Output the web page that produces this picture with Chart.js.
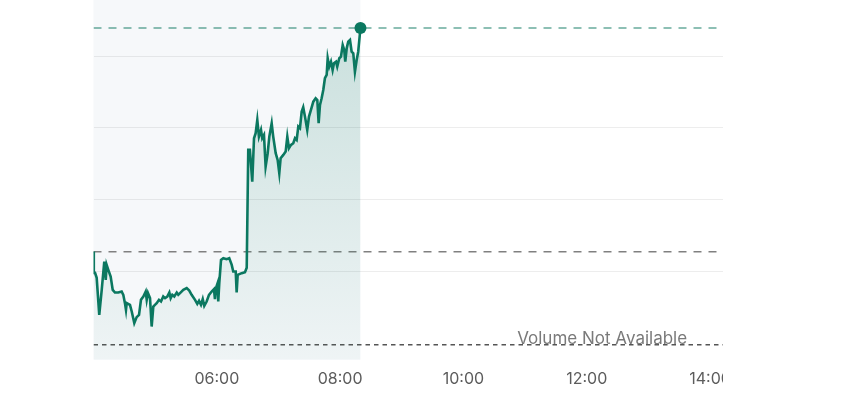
<!DOCTYPE html>
<html>
<head>
<meta charset="utf-8">
<script src="https://cdn.jsdelivr.net/npm/chart.js@4/dist/chart.umd.min.js"></script>
<style>
  html, body { margin: 0; padding: 0; background: #ffffff; }
  #clip { position: absolute; left: 0; top: 0; width: 723px; height: 400px; overflow: hidden; }
  #wrap { position: relative; width: 1090px; height: 400px; }
</style>
</head>
<body>
<div id="clip"><div id="wrap"><canvas id="c"></canvas></div></div>
<script>
// Time of each quote, minutes after midnight
const times = [
  240, 240.3, 241.5, 243.1, 245.6, 248.0, 250.5, 251.9, 252.8, 254.4,
  256.7, 258.7, 260.9, 264.1, 267.4, 269.0, 270.6, 271.6, 272.3, 275.5,
  277.2, 279.7, 282.0, 284.3, 286.2, 288.5, 290.8, 291.8, 293.0, 295.0,
  296.6, 298.2, 299.8, 301.5, 303.7, 305.7, 307.9, 309.6, 311.8, 313.8,
  315.1, 316.7, 318.6, 321.0, 322.5, 324.2, 327.4, 330.7, 333.2, 335.5,
  338.8, 341.0, 342.7, 344.6, 346.3, 347.8, 350.1, 352.4, 355.0, 357.2,
  358.2, 359.2, 360.8, 361.4, 362.4, 364.1, 366.3, 369.6, 372.1, 374.5,
  376.0, 378.4, 379.3, 380.3, 384.2, 387.4, 389.1, 390.6, 392.2, 394.5,
  396.2, 397.8, 399.4, 401.0, 403.0, 404.2, 405.9, 407.5, 409.5, 411.1,
  413.4, 414.9, 417.3, 419.2, 420.8, 422.1, 424.7, 427.0, 428.6, 430.2,
  432.2, 434.4, 436.1, 437.7, 439.3, 440.9, 442.6, 444.1, 445.8, 448.0,
  449.7, 451.6, 453.9, 456.2, 457.8, 459.1, 460.4, 462.0, 463.6, 465.2,
  466.9, 467.9, 469.4, 471.1, 472.7, 474.0, 476.0, 477.2, 479.2, 480.8,
  482.5, 484.0, 485.0, 486.4, 487.9, 489.6, 491.2, 492.8, 494.4, 496.1,
  497.6, 499.8
];
// Price at each time
const prices = [
  1.483, 1.27, 1.27, 1.22, 0.85, 1.10, 1.383, 1.20, 1.35, 1.30,
  1.233, 1.10, 1.073, 1.073, 1.083, 1.05, 0.967, 0.90, 0.967, 0.95,
  0.883, 0.767, 0.827, 0.85, 1.00, 1.033, 1.083, 1.00, 1.067, 1.017,
  0.733, 0.933, 0.95, 0.967, 1.00, 0.983, 1.033, 1.017, 1.033, 1.073,
  1.017, 1.05, 1.033, 1.073, 1.05, 1.067, 1.10, 1.117, 1.093, 1.05,
  1.00, 0.96, 0.99, 0.95, 1.007, 0.94, 0.983, 1.05, 1.083, 1.107,
  1.007, 1.117, 1.167, 0.983, 1.167, 1.40, 1.417, 1.407, 1.417, 1.35,
  1.283, 1.283, 1.073, 1.25, 1.267, 1.277, 1.32, 2.50, 2.50, 2.183,
  2.617, 2.667, 2.80, 2.633, 2.70, 2.617, 2.65, 2.333, 2.467, 2.633,
  2.767, 2.633, 2.467, 2.40, 2.267, 2.417, 2.45, 2.483, 2.633, 2.517,
  2.55, 2.567, 2.617, 2.60, 2.733, 2.717, 2.883, 2.927, 2.833, 2.70,
  2.833, 2.90, 2.983, 3.017, 3.00, 2.767, 2.95, 3.017, 3.10, 3.217,
  3.25, 3.417, 3.333, 3.383, 3.30, 3.367, 3.383, 3.333, 3.417, 3.433,
  3.55, 3.50, 3.383, 3.517, 3.583, 3.60, 3.483, 3.467, 3.283, 3.40,
  3.483, 3.72
];
const previousClose = 1.48;
const lastPrice = 3.72;
const volumeBaseline = 0.55;
const gridValues = [1.28, 2.00, 2.72, 3.43];
const tickTimes = [360, 480, 600, 720, 840];
const tickLabels = ['06:00', '08:00', '10:00', '12:00', '14:00'];
const xMin = 240, xMax = 1200;
const yMin = 0.40, yMax = 4.00;
const volumeText = 'Volume Not Available';
const volumeTextTime = 735;

const GREEN = '#0b7860';

const pricePoints = times.map((t, i) => ({ x: t, y: prices[i] }));
const lastIndex = pricePoints.length - 1;

const shadePlugin = {
  id: 'shade',
  beforeDraw(chart) {
    const { ctx, chartArea, scales } = chart;
    const x0 = scales.x.getPixelForValue(times[0]);
    const x1 = scales.x.getPixelForValue(times[lastIndex]);
    ctx.save();
    ctx.fillStyle = '#f6f8fa';
    ctx.fillRect(x0, chartArea.top, x1 - x0, chartArea.bottom - chartArea.top);
    ctx.restore();
  }
};

const volumePlugin = {
  id: 'volumeText',
  afterDatasetsDraw(chart) {
    const { ctx, scales } = chart;
    ctx.save();
    ctx.font = '17px Inter, "Noto Sans", sans-serif';
    ctx.fillStyle = '#7a7a7a';
    ctx.textAlign = 'center';
    ctx.textBaseline = 'alphabetic';
    ctx.fillText(volumeText, scales.x.getPixelForValue(volumeTextTime), scales.y.getPixelForValue(volumeBaseline) - 0.5);
    ctx.restore();
  }
};

function refLine(value, color, dash, order) {
  return {
    type: 'line',
    data: [{ x: xMin, y: value }, { x: xMax, y: value }],
    borderColor: color,
    borderWidth: 1.5,
    borderDash: dash,
    pointRadius: 0,
    fill: false,
    order: order
  };
}

new Chart(document.getElementById('c'), {
  type: 'line',
  data: {
    datasets: [
      {
        data: pricePoints,
        borderColor: GREEN,
        borderWidth: 2.6,
        tension: 0,
        pointRadius: ctx => ctx.dataIndex === lastIndex ? 6 : 0,
        pointBackgroundColor: GREEN,
        pointBorderWidth: 0,
        fill: 'start',
        backgroundColor: (ctx) => {
          const ca = ctx.chart.chartArea;
          if (!ca) return 'rgba(11,120,96,0.1)';
          const g = ctx.chart.ctx.createLinearGradient(0, ca.top, 0, ca.bottom);
          g.addColorStop(0, 'rgba(11,120,96,0.20)');
          g.addColorStop(1, 'rgba(11,120,96,0.03)');
          return g;
        },
        order: 0
      },
      refLine(lastPrice, 'rgba(11,120,96,0.62)', [8, 7], 1),
      refLine(previousClose, '#808080', [8, 7], 2),
      refLine(volumeBaseline, '#555555', [4.5, 4], 3)
    ]
  },
  options: {
    responsive: true,
    maintainAspectRatio: false,
    animation: false,
    events: [],
    layout: { autoPadding: false, padding: { left: 93.5, right: 10, top: 0, bottom: 1 } },
    plugins: { legend: { display: false }, tooltip: { enabled: false } },
    scales: {
      x: {
        type: 'linear',
        min: xMin,
        max: xMax,
        afterBuildTicks: (scale) => { scale.ticks = tickTimes.map(v => ({ value: v })); },
        grid: { display: false, drawTicks: false },
        border: { display: false },
        ticks: {
          autoSkip: false,
          maxRotation: 0,
          padding: 10,
          color: '#5c5c5c',
          font: { family: 'Inter', size: 16 },
          callback: (v) => { const i = tickTimes.indexOf(v); return i >= 0 ? tickLabels[i] : ''; }
        }
      },
      y: {
        type: 'linear',
        min: yMin,
        max: yMax,
        afterBuildTicks: (scale) => { scale.ticks = gridValues.map(v => ({ value: v })); },
        grid: { color: 'rgba(0,0,0,0.07)', lineWidth: 1, drawTicks: false },
        border: { display: false },
        ticks: { display: false }
      }
    }
  },
  plugins: [shadePlugin, volumePlugin]
});
</script>
</body>
</html>
